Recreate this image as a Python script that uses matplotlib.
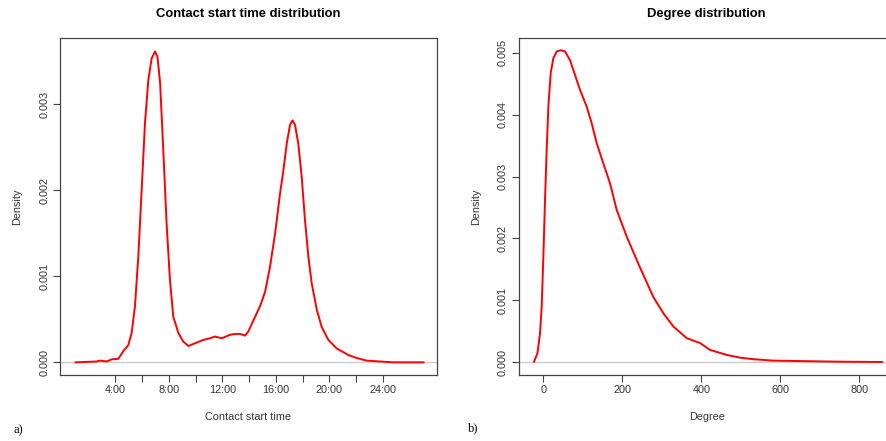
import numpy as np
import matplotlib
matplotlib.use("Agg")
import matplotlib.pyplot as plt

plt.rcParams["font.family"] = ["Liberation Sans", "DejaVu Sans"]

# contact start time (minutes after midnight) vs density
start_min = [62, 156, 171, 201, 224, 253, 276, 298, 313, 328, 343, 358, 373, 388,
             403, 418, 429, 441, 455, 470, 485, 500, 523, 545, 568, 605, 635,
             665, 687, 717, 755, 777, 800, 822, 837, 860, 889, 912, 934, 957,
             979, 994, 1009, 1024, 1035, 1046, 1061, 1076, 1091, 1106, 1121,
             1144, 1166, 1196, 1234, 1286, 1323, 1368, 1428, 1488, 1623]
start_dens = [0, 0.00001, 0.00002, 0.00001, 0.000035, 0.00004, 0.00013, 0.0002,
              0.00034, 0.00065, 0.00123, 0.002, 0.00278, 0.00328, 0.00353,
              0.00361, 0.00355, 0.00324, 0.00247, 0.00161, 0.00096, 0.00053,
              0.00034, 0.00024, 0.00019, 0.00023, 0.00026, 0.00028, 0.0003,
              0.00028, 0.00032, 0.00033, 0.00033, 0.00031, 0.00036, 0.00049,
              0.00065, 0.00082, 0.00111, 0.0015, 0.00196, 0.00223, 0.00254,
              0.00276, 0.00281, 0.00276, 0.00254, 0.00216, 0.00165, 0.00123,
              0.00092, 0.00061, 0.00041, 0.00026, 0.00016, 0.000085, 0.00005,
              0.00002, 0.00001, 0, 0]

degree = [-23.6, -15, -8.4, -4.2, 0, 4.2, 8.4, 12.7, 18.6, 25.3, 33.8, 43.9,
          54.9, 67.5, 80.2, 92.8, 109.7, 122.4, 135, 151.9, 168.8, 185.7, 211,
          242, 278, 304, 329, 363, 397, 422, 464, 498, 532, 582, 650, 751, 857]
degree_dens = [0.00001, 0.000145, 0.00047, 0.0009, 0.0017, 0.00262, 0.00343,
               0.00413, 0.00467, 0.00491, 0.00502, 0.00504, 0.00502, 0.00488,
               0.00464, 0.0044, 0.00413, 0.00386, 0.00354, 0.00321, 0.00289,
               0.00246, 0.00203, 0.00157, 0.00106, 0.00079, 0.00058, 0.00039,
               0.00031, 0.0002, 0.00012, 0.000075, 0.00005, 0.000027, 0.00002,
               0.00001, 0.000005]

time_ticks = list(range(240, 1441, 120))
time_labels = ["%d:00" % (t // 60) if (t // 60) % 4 == 0 else "" for t in time_ticks]
deg_ticks = [0, 200, 400, 600, 800]

W, H = 887, 441
fig = plt.figure(figsize=(W / 100, H / 100), dpi=100)

def box(l, t, r, b):
    return [l / W, 1 - b / H, (r - l) / W, (b - t) / H]

ax1 = fig.add_axes(box(60.3, 38.3, 436.7, 375))
ax2 = fig.add_axes(box(518.7, 37.7, 894.7, 375))

AX_COL = "#444444"
TXT_COL = "#333333"

def style(ax):
    for s in ax.spines.values():
        s.set_color(AX_COL)
        s.set_linewidth(0.9)
    ax.tick_params(direction="out", length=5, width=0.8, color=AX_COL,
                   labelsize=7.8, labelcolor=TXT_COL, pad=2.5)
    ax.tick_params(axis="y", pad=3)
    for lab in ax.get_yticklabels():
        lab.set_rotation(90)
        lab.set_va("center")
    ax.axhline(0, color="#cccccc", lw=1.0, zorder=1)

# a) contact start time
ax1.plot(start_min, start_dens, color="red", lw=1.4, zorder=2)
ax1.set_xlim(-7, 1682)
ax1.set_ylim(-0.000147, 0.003763)
ax1.set_xticks(time_ticks)
ax1.set_xticklabels(time_labels)
ax1.set_yticks([0, 0.001, 0.002, 0.003])
ax1.set_yticklabels(["0.000", "0.001", "0.002", "0.003"])
style(ax1)
ax1.set_title("Contact start time distribution", fontsize=9.4, fontweight="bold", pad=15)
ax1.set_xlabel("Contact start time", fontsize=7.8, color=TXT_COL, labelpad=12)
ax1.set_ylabel("Density", fontsize=7.8, color=TXT_COL, labelpad=12)

# b) degree
ax2.plot(degree, degree_dens, color="red", lw=1.4, zorder=2)
ax2.set_xlim(-62.4, 889.5)
ax2.set_ylim(-0.000205, 0.005242)
ax2.set_xticks(deg_ticks)
ax2.set_yticks([0, 0.001, 0.002, 0.003, 0.004, 0.005])
ax2.set_yticklabels(["0.000", "0.001", "0.002", "0.003", "0.004", "0.005"])
style(ax2)
ax2.set_title("Degree distribution", fontsize=9.4, fontweight="bold", pad=15)
ax2.set_xlabel("Degree", fontsize=7.8, color=TXT_COL, labelpad=12)
ax2.set_ylabel("Density", fontsize=7.8, color=TXT_COL, labelpad=12)

fig.text(14 / W, 1 - 430 / H, "a)", family="Liberation Serif", fontsize=9, va="center")
fig.text(468 / W, 1 - 428 / H, "b)", family="Liberation Serif", fontsize=9, va="center")

fig.savefig("out.png", dpi=100)
